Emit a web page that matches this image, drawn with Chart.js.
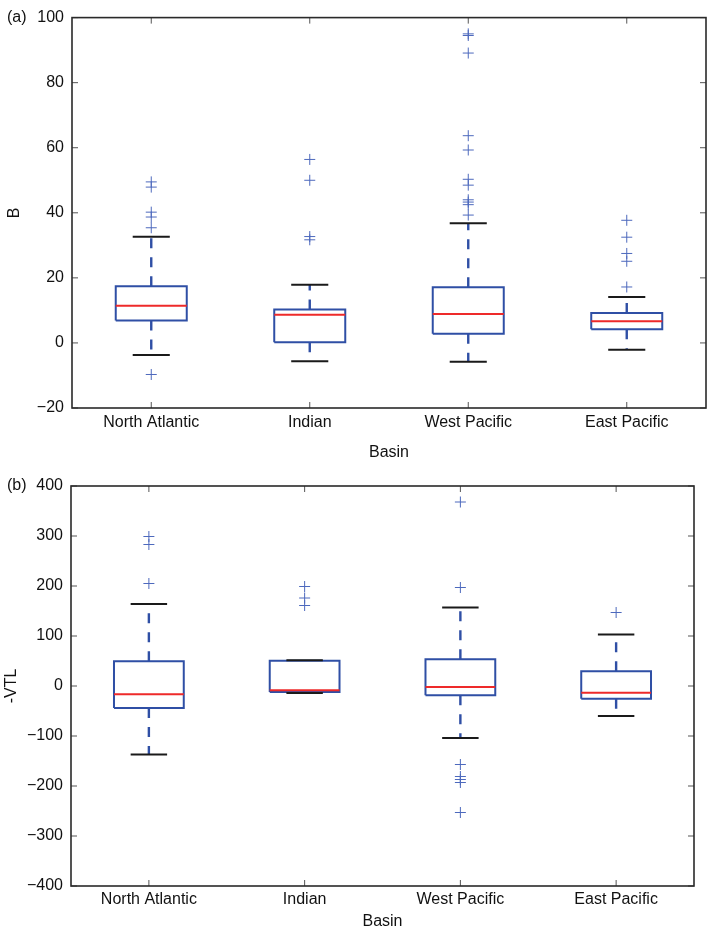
<!DOCTYPE html>
<html>
<head>
<meta charset="utf-8">
<script src="https://cdn.jsdelivr.net/npm/chart.js@4"></script>
<style>
  html, body { margin: 0; padding: 0; background: #fff; }
  canvas { display: block; }
</style>
</head>
<body>
<canvas id="chartB" width="708" height="460"></canvas>
<canvas id="chartVTL" width="708" height="471"></canvas>
<script>
// --------------------------------------------------
//  DATA
// --------------------------------------------------
const basins = ["North Atlantic", "Indian", "West Pacific", "East Pacific"];

// panel (a): B
const bLow    = [-3.7, -5.6, -5.8, -2.1];
const bQ1     = [6.9, 0.2, 2.8, 4.2];
const bMedian = [11.4, 8.7, 8.9, 6.7];
const bQ3     = [17.4, 10.3, 17.1, 9.2];
const bHigh   = [32.6, 17.9, 36.8, 14.1];
const bOutliers = [
    [-9.7, 35.4, 38.7, 40.2, 47.9, 49.5],
    [31.7, 32.7, 50.0, 56.4],
    [39.3, 42.5, 43.3, 44.0, 48.5, 50.3, 59.3, 63.7, 89.1, 94.5, 95.0],
    [17.2, 25.1, 27.5, 32.5, 37.7]
];
const bTicks = [-20, 0, 20, 40, 60, 80, 100];

// panel (b): -VTL
const vLow    = [-137, -14, -104, -60];
const vQ1     = [-44, -12, -18.7, -25.3];
const vMedian = [-16.7, -8.7, -2, -13.3];
const vQ3     = [49.3, 50.7, 53.3, 29.3];
const vHigh   = [164, 51.3, 157, 103];
const vOutliers = [
    [205, 283, 299],
    [161, 176, 199],
    [-253, -193, -187, -181, -157, 197, 368],
    [147]
];
const vTicks = [-400, -300, -200, -100, 0, 100, 200, 300, 400];

// --------------------------------------------------
//  STYLE
// --------------------------------------------------
const FONT = { family: "'Liberation Sans', Arial, Helvetica, sans-serif", size: 16 };
const TEXT = "#111";
const BOX_BLUE = "#2f4fa5";
const FLIER_BLUE = "#4d69bd";
const MEDIAN_RED = "#ee2a2a";
const CAP_BLACK = "#1a1a1a";
const BOX_HALF = 0.224;   // half box width, x units
const CAP_HALF = 0.117;   // half cap width, x units

const gap = i => ({ x: i, y: null });

// --------------------------------------------------
//  BOXPLOT DATASETS BUILT FROM THE ARRAYS
// --------------------------------------------------
function buildBoxDatasets(low, q1, med, q3, high, outliers) {
    const boxes = [], medians = [], whiskers = [], caps = [], fliers = [];

    basins.forEach((_, k) => {
        const i = k + 1;
        boxes.push(
            { x: i - BOX_HALF, y: q1[k] }, { x: i + BOX_HALF, y: q1[k] },
            { x: i + BOX_HALF, y: q3[k] }, { x: i - BOX_HALF, y: q3[k] },
            { x: i - BOX_HALF, y: q1[k] }, gap(i)
        );
        medians.push({ x: i - BOX_HALF, y: med[k] }, { x: i + BOX_HALF, y: med[k] }, gap(i));
        whiskers.push(
            { x: i, y: q3[k] }, { x: i, y: high[k] }, gap(i),
            { x: i, y: q1[k] }, { x: i, y: low[k] }, gap(i)
        );
        caps.push(
            { x: i - CAP_HALF, y: high[k] }, { x: i + CAP_HALF, y: high[k] }, gap(i),
            { x: i - CAP_HALF, y: low[k] }, { x: i + CAP_HALF, y: low[k] }, gap(i)
        );
        outliers[k].forEach(v => fliers.push({ x: i, y: v }));
    });

    const lineBase = { showLine: true, spanGaps: false, pointRadius: 0, fill: false };

    // index 0 is drawn last (on top)
    return [
        {
            label: "outliers", data: fliers, showLine: false,
            pointStyle: "cross", pointRadius: 5.5, borderColor: FLIER_BLUE, borderWidth: 1
        },
        { ...lineBase, label: "median", data: medians, borderColor: MEDIAN_RED, borderWidth: 2 },
        { ...lineBase, label: "caps", data: caps, borderColor: CAP_BLACK, borderWidth: 2 },
        { ...lineBase, label: "box", data: boxes, borderColor: BOX_BLUE, borderWidth: 2, borderJoinStyle: "miter" },
        { ...lineBase, label: "whiskers", data: whiskers, borderColor: BOX_BLUE, borderWidth: 2.4, borderDash: [10, 9] }
    ];
}

// --------------------------------------------------
//  PLUGIN: FRAME, INWARD TICKS, PANEL LETTER
// --------------------------------------------------
const framePlugin = {
    id: "frame",
    afterDatasetsDraw(chart, args, opts) {
        const { ctx, chartArea: a, scales: { x, y } } = chart;
        ctx.save();
        ctx.strokeStyle = "#555";
        ctx.lineWidth = 1;
        const len = 6;
        x.ticks.forEach(t => {
            const px = x.getPixelForValue(t.value);
            ctx.beginPath();
            ctx.moveTo(px, a.bottom); ctx.lineTo(px, a.bottom - len);
            ctx.moveTo(px, a.top); ctx.lineTo(px, a.top + len);
            ctx.stroke();
        });
        y.ticks.forEach(t => {
            const py = y.getPixelForValue(t.value);
            ctx.beginPath();
            ctx.moveTo(a.left, py); ctx.lineTo(a.left + len, py);
            ctx.moveTo(a.right, py); ctx.lineTo(a.right - len, py);
            ctx.stroke();
        });

        ctx.strokeStyle = "#2a2a2a";
        ctx.lineWidth = 1.6;
        ctx.strokeRect(a.left, a.top, a.right - a.left, a.bottom - a.top);

        ctx.fillStyle = TEXT;
        ctx.font = `${FONT.size}px ${FONT.family}`;
        ctx.textAlign = "left";
        ctx.textBaseline = "middle";
        ctx.fillText(opts.letter, 7, a.top);
        ctx.restore();
    }
};

const minus = v => String(v).replace("-", "\u2212");

function makeChart(canvasId, cfg) {
    const datasets = buildBoxDatasets(cfg.low, cfg.q1, cfg.med, cfg.q3, cfg.high, cfg.outliers);

    return new Chart(document.getElementById(canvasId), {
        type: "scatter",
        data: { datasets },
        plugins: [framePlugin],
        options: {
            responsive: false,
            animation: false,
            events: [],
            layout: {
                autoPadding: false,
                padding: { top: cfg.padTop, right: cfg.padRight, left: 0, bottom: 0 }
            },
            plugins: {
                legend: { display: false },
                tooltip: { enabled: false },
                frame: { letter: cfg.letter }
            },
            scales: {
                x: {
                    type: "linear",
                    min: 0.5,
                    max: 4.5,
                    afterBuildTicks: s => { s.ticks = basins.map((_, k) => ({ value: k + 1 })); },
                    afterFit: s => {
                        s.height = cfg.xAxisHeight;
                        s.paddingLeft = 0;
                        s.paddingRight = 0;
                    },
                    grid: { display: false, drawTicks: false },
                    border: { display: false },
                    ticks: {
                        padding: cfg.xTickPad,
                        color: TEXT,
                        font: FONT,
                        maxRotation: 0,
                        autoSkip: false,
                        callback: v => basins[v - 1] ?? ""
                    },
                    title: {
                        display: true, text: "Basin", color: TEXT, font: FONT,
                        padding: { top: 0, bottom: cfg.xTitlePad }
                    }
                },
                y: {
                    min: cfg.ticks[0],
                    max: cfg.ticks[cfg.ticks.length - 1],
                    afterBuildTicks: s => { s.ticks = cfg.ticks.map(v => ({ value: v })); },
                    afterFit: s => { s.width = cfg.yAxisWidth; },
                    grid: { display: false, drawTicks: false },
                    border: { display: false },
                    ticks: { padding: 8, color: TEXT, font: FONT, callback: v => minus(v) },
                    title: {
                        display: true, text: cfg.yTitle, color: TEXT, font: FONT,
                        padding: { top: cfg.yTitlePad, bottom: 0 }
                    }
                }
            }
        }
    });
}

// --------------------------------------------------
//  INITIALIZE BOTH PANELS
// --------------------------------------------------
makeChart("chartB", {
    low: bLow, q1: bQ1, med: bMedian, q3: bQ3, high: bHigh, outliers: bOutliers,
    ticks: bTicks, yTitle: "B", letter: "(a)",
    padTop: 9, padRight: 2, xAxisHeight: 52, yAxisWidth: 72,
    xTickPad: 5, xTitlePad: -2, yTitlePad: 5
});

makeChart("chartVTL", {
    low: vLow, q1: vQ1, med: vMedian, q3: vQ3, high: vHigh, outliers: vOutliers,
    ticks: vTicks, yTitle: "-VTL", letter: "(b)",
    padTop: 26, padRight: 14, xAxisHeight: 45, yAxisWidth: 71,
    xTickPad: 4, xTitlePad: 0, yTitlePad: 1.5
});
</script>
</body>
</html>
